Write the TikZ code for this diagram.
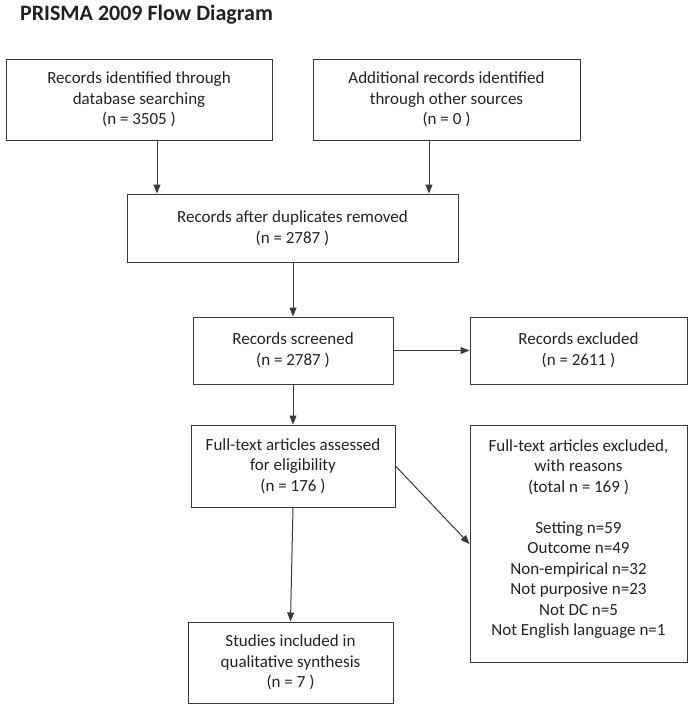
\documentclass[tikz,border=0pt]{standalone}
\usepackage{fontspec}
\setmainfont{Carlito}
\usetikzlibrary{arrows.meta}
\definecolor{ln}{HTML}{3A3A3A}
\definecolor{tx}{HTML}{222222}
\begin{document}
\begin{tikzpicture}[x=1pt,y=-1pt,
  box/.style={draw=ln,line width=1pt,align=center,inner sep=0pt,text=tx,
    font=\fontsize{17}{20.7}\selectfont},
  arr/.style={draw=ln,line width=1pt,-{Triangle[length=9pt,width=7pt]}}]
\useasboundingbox (0,0) rectangle (690,710);
\node[text=tx,font=\bfseries\fontsize{22}{26}\selectfont] (title) at (146.5,15) {PRISMA 2009 Flow Diagram};
\node[box,minimum width=266pt,minimum height=81pt] (b1) at (139,99.5)
  {Records identified through\\database searching\\(n = 3505 )};
\node[box,minimum width=267pt,minimum height=81pt] (b2) at (446.5,99.5)
  {Additional records identified\\through other sources\\(n = 0 )};
\node[box,minimum width=331pt,minimum height=68pt] (b3) at (292.5,228)
  {Records after duplicates removed\\(n = 2787 )};
\node[box,minimum width=200pt,minimum height=67pt] (scr) at (293,350.5)
  {Records screened\\(n = 2787 )};
\node[box,minimum width=217pt,minimum height=67pt] (exc) at (578.5,350.5)
  {Records excluded\\(n = 2611 )};
\node[box,minimum width=204pt,minimum height=82pt] (ft) at (293,466)
  {Full-text articles assessed\\for eligibility\\(n = 176 )};
\node[box,minimum width=217pt,minimum height=237pt,anchor=north] (ftx) at (578.5,425)
  {};
\node[text=tx,align=center,inner sep=0pt,font=\fontsize{17}{20.5}\selectfont,anchor=center] (ftxt) at (578.5,539)
  {Full-text articles excluded,\\with reasons\\(total n = 169 )\\[20.5pt]Setting n=59\\Outcome n=49\\Non-empirical n=32\\Not purposive n=23\\Not DC n=5\\Not English language n=1};
\node[box,minimum width=205pt,minimum height=81pt] (st) at (290.5,662.5)
  {Studies included in\\qualitative synthesis\\(n = 7 )};
\coordinate (c1) at (157,0);
\coordinate (c2) at (429,0);
\draw[arr] (b1.south -| c1) -- (b3.north -| c1);
\draw[arr] (b2.south -| c2) -- (b3.north -| c2);
\draw[arr] (b3.south -| scr.north) -- (scr.north);
\draw[arr] (scr.east) -- (exc.west);
\draw[arr] (scr.south) -- (ft.north);
\draw[arr] (ft.east) -- (ftx.west);
\draw[arr] (ft.south) -- (st.north);
\end{tikzpicture}
\end{document}
